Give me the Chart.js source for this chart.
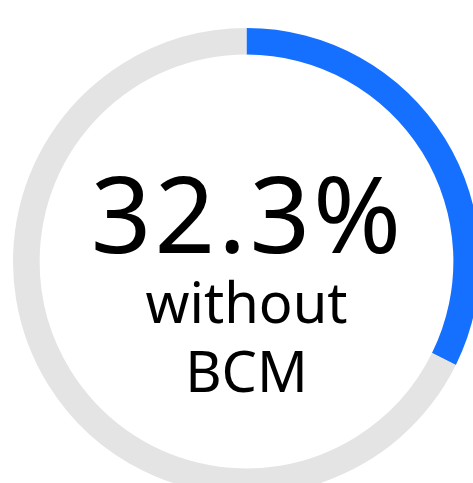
<!DOCTYPE html>
<html>
<head>
<meta charset="utf-8">
<script src="https://cdn.jsdelivr.net/npm/chart.js@4"></script>
<style>
  html, body { margin: 0; padding: 0; background: #fff; overflow: hidden; width: 473px; height: 483px; }
  #wrap { position: absolute; left: 13px; top: 28px; width: 467px; height: 467px; }
</style>
</head>
<body>
<div id="wrap"><canvas id="gauge"></canvas></div>
<script>
// dados
const labels = ['without BCM', 'restante'];
const values = [32.3, 67.7];
const colors = ['#1670ff', '#e4e4e4'];
const valueText = '32.3%';
const captionLines = ['without', 'BCM'];

// texto central
const centerText = {
  id: 'centerText',
  afterDraw(chart) {
    const { ctx } = chart;
    const arc = chart.getDatasetMeta(0).data[0];
    const cx = arc.x, cy = arc.y;
    ctx.save();
    ctx.fillStyle = '#000';
    ctx.textAlign = 'center';
    ctx.textBaseline = 'alphabetic';
    ctx.font = '400 106px "Noto Sans", sans-serif';
    ctx.letterSpacing = '3px';
    ctx.fillText(valueText, cx + 1, cy - 9);
    ctx.letterSpacing = '0px';
    ctx.font = '400 56px "Noto Sans", sans-serif';
    ctx.fillText(captionLines[0], cx, cy + 61);
    ctx.fillText(captionLines[1], cx, cy + 130);
    ctx.restore();
  }
};

new Chart(document.getElementById('gauge'), {
  type: 'doughnut',
  data: {
    labels,
    datasets: [{ data: values, backgroundColor: colors, borderWidth: 0 }]
  },
  options: {
    responsive: true,
    maintainAspectRatio: false,
    animation: false,
    cutout: '88.6%',
    layout: { padding: 0 },
    plugins: { legend: { display: false }, tooltip: { enabled: false } }
  },
  plugins: [centerText]
});
</script>
</body>
</html>
